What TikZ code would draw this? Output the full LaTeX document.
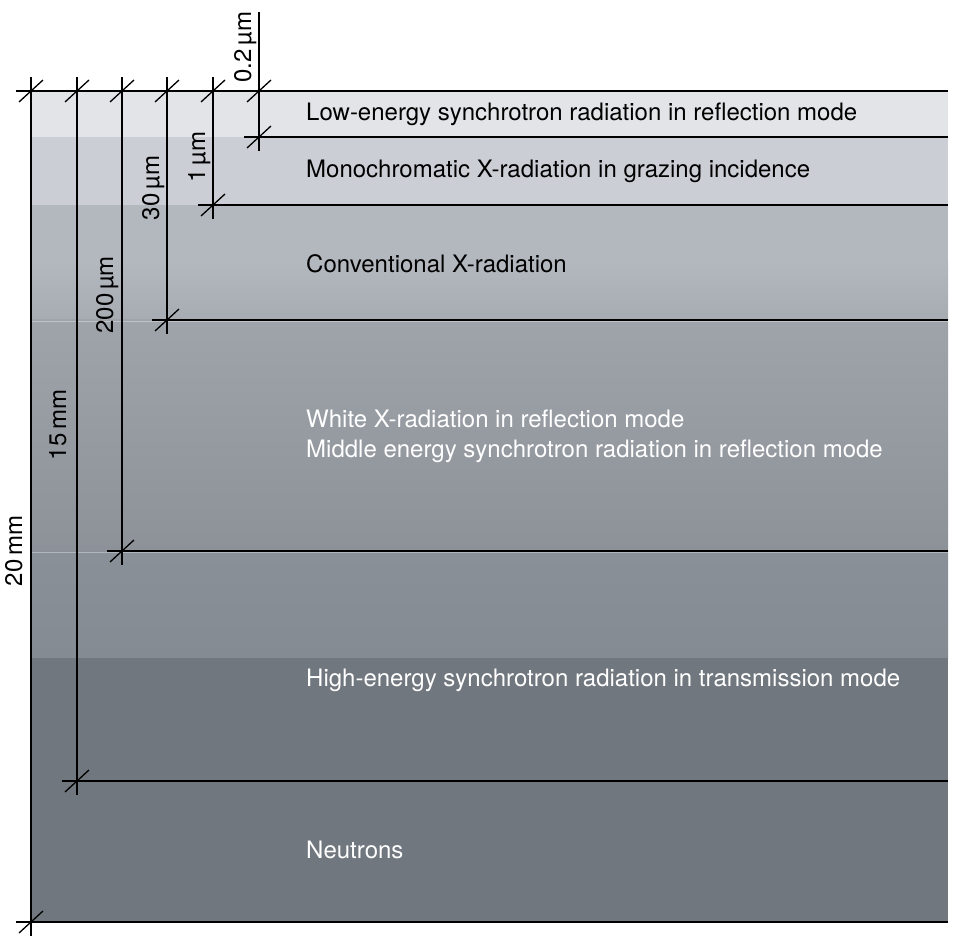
\documentclass[tikz,border=0pt]{standalone}
\usepackage{fontspec}
\setmainfont{TeX Gyre Heros}
\definecolor{bandA}{HTML}{E3E4E7}
\definecolor{bandB}{HTML}{CBCED4}
\definecolor{bandCt}{HTML}{B3B8BF}
\definecolor{bandCb}{HTML}{A7ACB3}
\definecolor{bandDt}{HTML}{9FA4AB}
\definecolor{bandDb}{HTML}{8D9299}
\definecolor{bandEt}{HTML}{8A9097}
\definecolor{bandEb}{HTML}{858B92}
\definecolor{bandF}{HTML}{71777E}
\newcommand\dimtick[1]{\draw[dimline] ([shift={(-12,11)}]#1) -- ([shift={(12,-11)}]#1);}
\begin{document}
\begin{tikzpicture}[x=1pt,y=-1pt,
  dimline/.style={line width=1.3pt, black},
  lbl/.style={font=\fontsize{24}{28}\selectfont, anchor=base west, inner sep=0pt},
  vlbl/.style={font=\fontsize{24}{28}\selectfont, anchor=base, rotate=90, inner sep=0pt}]
\useasboundingbox (0,0) rectangle (954,936);
% bands
\fill[bandA] (31,91) rectangle (948,137);
\fill[bandB] (31,137) rectangle (948,205);
\fill[bandCt] (31,205) rectangle (948,262);
\shade[top color=bandCt, bottom color=bandCb] (31,262) rectangle (948,320);
\shade[top color=bandDt, bottom color=bandDb] (31,320) rectangle (948,551);
\shade[top color=bandEt, bottom color=bandEb] (31,551) rectangle (948,658);
\fill[bandF] (31,658) rectangle (948,922);
\draw[white, opacity=0.35, line width=0.6pt] (31,321.5) -- (948,321.5);
\draw[white, opacity=0.35, line width=0.6pt] (31,552.5) -- (948,552.5);
% coordinates
\coordinate (tl) at (16,91);
\coordinate (tr) at (948,91);
\foreach \i/\x/\yb in {0/31/922, 1/77/781, 2/122/551, 3/167/320, 4/213/205, 5/259/137}{
  \coordinate (vt\i) at (\x,77);
  \coordinate (vx\i) at (\x,91);
  \coordinate (vb\i) at (\x,\yb);
  \coordinate (ve\i) at (\x,\yb+14);
  \coordinate (hs\i) at (\x-15,\yb);
  \coordinate (he\i) at (948,\yb);
}
\coordinate (vt5) at (259,12);
% lines
\draw[dimline] (tl) -- (tr);
\foreach \i in {0,...,5}{
  \draw[dimline] (vt\i) -- (ve\i);
  \draw[dimline] (hs\i) -- (he\i);
  \dimtick{vx\i}
  \dimtick{vb\i}
}
% vertical labels
\node[vlbl] (l02) at (251,47) {0.2\,µm};
\node[vlbl] (l1) at (205,157) {1\,µm};
\node[vlbl] (l30) at (159,188) {30\,µm};
\node[vlbl] (l200) at (113,295) {200\,µm};
\node[vlbl] (l15) at (66,425) {15\,mm};
\node[vlbl] (l20) at (22,551) {20\,mm};
% band labels
\node[lbl] (t1) at (306,121) {Low-energy synchrotron radiation in reflection mode};
\node[lbl] (t2) at (306,178) {Monochromatic X-radiation in grazing incidence};
\node[lbl] (t3) at (306,273) {Conventional X-radiation};
\node[lbl, white] (t4) at (306,427) {White X-radiation in reflection mode};
\node[lbl, white] (t5) at (306,457) {Middle energy synchrotron radiation in reflection mode};
\node[lbl, white] (t6) at (306,686) {High-energy synchrotron radiation in transmission mode};
\node[lbl, white] (t7) at (306,858) {Neutrons};
\end{tikzpicture}
\end{document}
